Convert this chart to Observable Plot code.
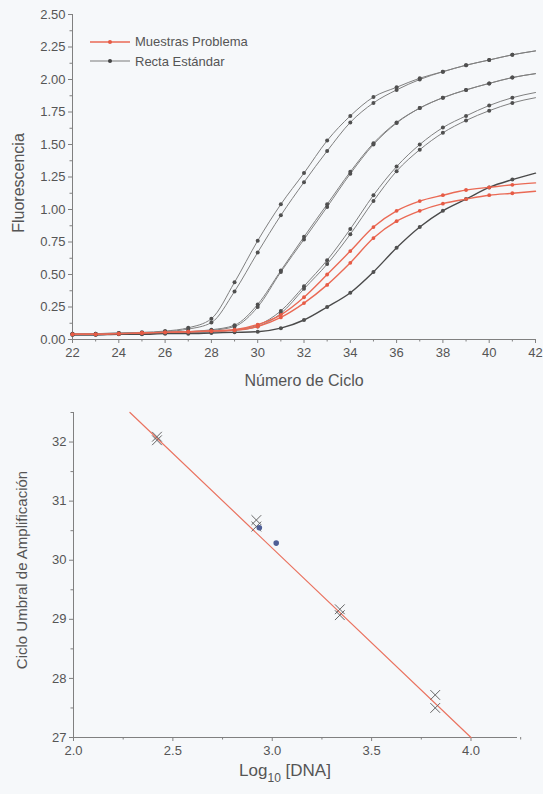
<!DOCTYPE html>
<html><head><meta charset="utf-8">
<script src="https://cdn.jsdelivr.net/npm/d3@7"></script>
<script src="https://cdn.jsdelivr.net/npm/@observablehq/plot@0.6"></script>
<style>
html,body{margin:0;padding:0;background:#f6f8fa;}
#wrap{position:relative;width:543px;height:794px;overflow:hidden;font-family:"Liberation Sans",Arial,sans-serif;}
#wrap svg{display:block;background:transparent;}
.legend{position:absolute;left:88px;top:32px;font-size:13px;color:#555;line-height:19.5px;}
.legend div{display:flex;align-items:center;white-space:nowrap;}
.legend svg{margin-right:3px;}
</style></head>
<body><div id="wrap"><div id="top"></div><div id="bottom"></div>
<div class="legend">
  <div><svg width="44" height="10"><line x1="2" y1="5" x2="42" y2="5" stroke="#ea6a55" stroke-width="1.4"/><circle cx="22" cy="5" r="2" fill="#e65b45"/></svg>Muestras Problema</div>
  <div><svg width="44" height="10"><line x1="2" y1="5" x2="42" y2="5" stroke="#7a7a7a" stroke-width="1"/><circle cx="22" cy="5" r="2" fill="#444"/></svg>Recta Estándar</div>
</div>
</div>
<script>
// ---------- Top chart data: fluorescence vs cycle ----------
const cycles = [22,23,24,25,26,27,28,29,30,31,32,33,34,35,36,37,38,39,40,41,42];
const std1a = [0.045,0.045,0.05,0.055,0.065,0.09,0.16,0.44,0.76,1.04,1.28,1.53,1.72,1.865,1.94,2.01,2.06,2.11,2.15,2.19,2.22];
const std1b = [0.045,0.045,0.05,0.05,0.06,0.08,0.13,0.37,0.67,0.955,1.21,1.45,1.67,1.82,1.92,2.00,2.06,2.11,2.15,2.19,2.22];
const std2a = [0.04,0.04,0.045,0.05,0.055,0.06,0.075,0.11,0.27,0.53,0.79,1.04,1.29,1.51,1.67,1.78,1.86,1.92,1.97,2.015,2.045];
const std2b = [0.04,0.04,0.045,0.05,0.055,0.06,0.07,0.10,0.25,0.52,0.77,1.02,1.275,1.50,1.665,1.78,1.86,1.92,1.97,2.015,2.045];
const std3a = [0.04,0.04,0.045,0.045,0.05,0.055,0.06,0.075,0.11,0.22,0.41,0.61,0.85,1.11,1.33,1.50,1.63,1.72,1.80,1.86,1.90];
const std3b = [0.04,0.04,0.045,0.045,0.05,0.055,0.06,0.07,0.10,0.20,0.39,0.58,0.81,1.065,1.295,1.46,1.59,1.685,1.76,1.82,1.86];
const std4  = [0.035,0.035,0.04,0.04,0.045,0.045,0.05,0.055,0.06,0.087,0.15,0.25,0.36,0.52,0.705,0.865,0.99,1.08,1.17,1.23,1.28];
const sampleA = [0.04,0.04,0.045,0.05,0.055,0.06,0.065,0.075,0.115,0.19,0.325,0.50,0.68,0.865,0.99,1.065,1.11,1.15,1.17,1.19,1.205];
const sampleB = [0.04,0.04,0.045,0.05,0.055,0.06,0.065,0.07,0.10,0.17,0.28,0.42,0.59,0.78,0.91,0.99,1.045,1.08,1.11,1.125,1.14];
const lastMarkerCycle = 41;

const xTicksTop = [22,24,26,28,30,32,34,36,38,40,42];
const xMinorTop = [23,25,27,29,31,33,35,37,39,41];
const yTicksTop = [0,0.25,0.5,0.75,1,1.25,1.5,1.75,2,2.25,2.5];
const yMinorTop = [0.125,0.375,0.625,0.875,1.125,1.375,1.625,1.875,2.125,2.375];

// ---------- Bottom chart data: threshold cycle vs log10 DNA ----------
const stdLog = [2.42,2.42,2.92,2.92,3.34,3.34,3.82,3.82];
const stdCt  = [32.09,32.03,30.68,30.57,29.17,29.07,27.72,27.50];
const smpLog = [2.935,3.02];
const smpCt  = [30.55,30.29];
const fitSlope = -3.205, fitIntercept = 39.82;
const xTicksBot = [2.0,2.5,3.0,3.5,4.0];
const xMinorBot = [2.25,2.75,3.25,3.75,4.25];
const yTicksBot = [27,28,29,30,31,32];
const yMinorBot = [27.5,28.5,29.5,30.5,31.5,32.5];

const font = "Liberation Sans, Arial, sans-serif";
const txt = "#555";
const axisCol = "#808080";

// build long tables
const stdSeries = {std1a,std1b,std2a,std2b,std3a,std3b,std4};
const smpSeries = {sampleA,sampleB};
const toRows = obj => Object.entries(obj).flatMap(([k,vals]) => vals.map((v,i)=>({series:k, cycle:cycles[i], value:v})));
const stdRows = toRows(stdSeries);
const smpRows = toRows(smpSeries);

const topPlot = Plot.plot({
  width:543, height:395,
  marginLeft:72, marginRight:8, marginTop:14, marginBottom:56,
  x:{domain:[22,42]},
  y:{domain:[0,2.5]},
  style:{background:"transparent", fontFamily:font, fontSize:"13px", color:txt, overflow:"visible"},
  marks:[
    Plot.axisX({ticks:xTicksTop, tickSize:4, tickPadding:4, label:null, tickFormat:d=>String(d), fontSize:13, stroke:axisCol, fill:txt}),
    Plot.axisX({ticks:xMinorTop, tickSize:2.5, text:null, label:null, stroke:axisCol}),
    Plot.axisY({ticks:yTicksTop, tickSize:4, tickPadding:3, label:null, tickFormat:d3.format(".2f"), fontSize:13, stroke:axisCol, fill:txt}),
    Plot.axisY({ticks:yMinorTop, tickSize:2.5, text:null, label:null, stroke:axisCol}),
    Plot.ruleX([22], {stroke:axisCol}),
    Plot.ruleY([0], {stroke:axisCol}),
    Plot.line(stdRows, {x:"cycle", y:"value", z:"series", stroke:d=>d.series==="std4"?"#4a4a4a":"#808080", strokeWidth:d=>d.series==="std4"?1.4:1, curve:"monotone-x"}),
    Plot.dot(stdRows.filter(d=>d.cycle<=lastMarkerCycle), {x:"cycle", y:"value", r:2, fill:"#505050"}),
    Plot.line(smpRows, {x:"cycle", y:"value", z:"series", stroke:"#ea6a55", strokeWidth:1.4, curve:"monotone-x"}),
    Plot.dot(smpRows.filter(d=>d.cycle<=lastMarkerCycle), {x:"cycle", y:"value", r:1.9, fill:"#e65b45"}),
    Plot.text(["Número de Ciclo"], {frameAnchor:"bottom", dy:41, lineAnchor:"middle", textAnchor:"middle", fontSize:16, fill:txt}),
    Plot.text(["Fluorescencia"], {frameAnchor:"left", dx:-54, dy:6, rotate:-90, lineAnchor:"middle", textAnchor:"middle", fontSize:16, fill:txt})
  ]
});
document.getElementById("top").append(topPlot);

// regression line across the y domain
const xDomBot = [2.0, 4.234];
const yDomBot = [27, 32.5];
const fitXs = [ (fitIntercept - yDomBot[1]) / -fitSlope, (fitIntercept - yDomBot[0]) / -fitSlope ];
const fitRows = fitXs.map(x=>({x, y:fitIntercept + fitSlope*x}));
const stdPts = stdLog.map((x,i)=>({x, y:stdCt[i]}));
const smpPts = smpLog.map((x,i)=>({x, y:smpCt[i]}));

const botPlot = Plot.plot({
  width:543, height:399,
  marginLeft:73, marginRight:26, marginTop:17, marginBottom:57,
  x:{domain:xDomBot},
  y:{domain:yDomBot},
  style:{background:"transparent", fontFamily:font, fontSize:"13px", color:txt, overflow:"visible"},
  marks:[
    Plot.axisX({ticks:xTicksBot, tickSize:4, tickPadding:4, label:null, tickFormat:d3.format(".1f"), fontSize:13, stroke:axisCol, fill:txt}),
    Plot.axisX({ticks:xMinorBot, tickSize:2.5, text:null, label:null, stroke:axisCol}),
    Plot.axisY({ticks:yTicksBot, tickSize:4, tickPadding:3, label:null, tickFormat:d=>String(d), fontSize:13, stroke:axisCol, fill:txt}),
    Plot.axisY({ticks:yMinorBot, tickSize:2.5, text:null, label:null, stroke:axisCol}),
    Plot.ruleX([xDomBot[0]], {stroke:axisCol}),
    Plot.ruleY([yDomBot[0]], {stroke:axisCol}),
    Plot.line(fitRows, {x:"x", y:"y", stroke:"#ea7360", strokeWidth:1.2}),
    Plot.dot(stdPts, {x:"x", y:"y", symbol:"times", r:4.5, stroke:"#666", strokeWidth:1}),
    Plot.dot(smpPts, {x:"x", y:"y", r:2.8, fill:"#4f5f96"}),
    Plot.text(["Ciclo Umbral de Amplificación"], {frameAnchor:"left", dx:-51, dy:-5, rotate:-90, lineAnchor:"middle", textAnchor:"middle", fontSize:15, fill:txt})
  ]
});
document.getElementById("bottom").append(botPlot);

// x-axis title with real subscript
const bsvg = d3.select(botPlot.tagName.toLowerCase()==="svg" ? botPlot : botPlot.querySelector("svg"));
const xMid = (73 + (543-26))/2;
const t = bsvg.append("text").attr("x", xMid - 10).attr("y", 381).attr("text-anchor","middle")
  .attr("font-family", font).attr("font-size", 17).attr("fill", txt);
t.append("tspan").text("Log");
t.append("tspan").attr("font-size", 12).attr("dy", 6).text("10");
t.append("tspan").attr("dy", -6).text(" [DNA]");
</script>
</body></html>
